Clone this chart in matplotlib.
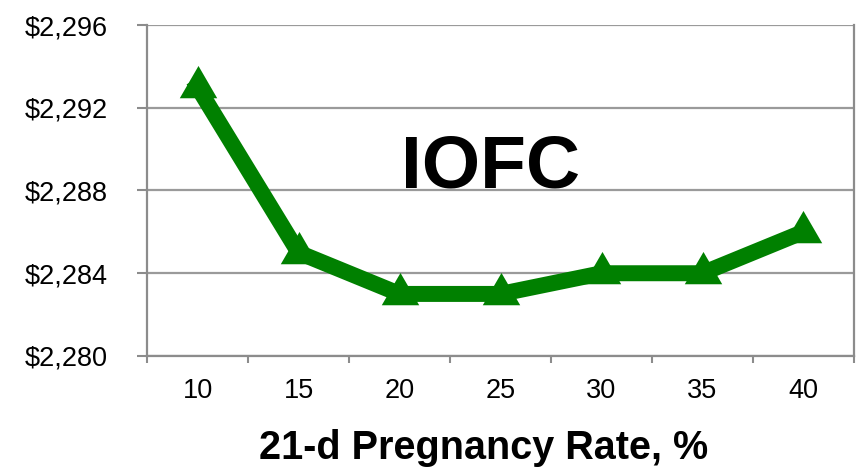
import matplotlib.pyplot as plt
import numpy as np
from matplotlib.path import Path
from matplotlib.ticker import FuncFormatter

# Data
rates = ["10", "15", "20", "25", "30", "35", "40"]
iofc = [2293, 2285, 2283, 2283, 2284, 2284, 2286]
y_ticks = [2280, 2284, 2288, 2292, 2296]

plt.rcParams['font.family'] = ['Liberation Sans', 'DejaVu Sans']

green = '#008000'
gray = '#8c8c8c'

# triangle with its centroid at the origin (the line goes through the centroid)
tri = Path([(0, 2 / 3), (-0.58, -1 / 3), (0.58, -1 / 3), (0, 2 / 3)],
           [Path.MOVETO, Path.LINETO, Path.LINETO, Path.CLOSEPOLY])

fig = plt.figure(figsize=(8.67, 4.72), dpi=100)
ax = fig.add_axes([0.1696, 0.2458, 0.8154, 0.7012])

x = np.arange(len(rates))
ax.plot(x, iofc, color=green, linewidth=11.5, solid_joinstyle='miter',
        marker=tri, markersize=31, markeredgewidth=0, zorder=3)

ax.set_xlim(-0.5, len(rates) - 0.5)
ax.set_ylim(y_ticks[0], y_ticks[-1])
ax.set_yticks(y_ticks)
ax.yaxis.set_major_formatter(FuncFormatter(lambda v, p: f"${v:,.0f}"))
ax.grid(axis='y', color='#9a9a9a', linewidth=1.6, zorder=1)

# category ticks between labels, labels centred on categories
ax.set_xticks(np.arange(-0.5, len(rates)), labels=[""] * (len(rates) + 1))
ax.set_xticks(x, labels=rates, minor=True)
ax.tick_params(axis='x', which='minor', length=0, pad=16, labelsize=19.5)
ax.tick_params(axis='x', which='major', length=5, width=1.5, color=gray)
ax.tick_params(axis='y', length=7, width=1.5, color=gray, pad=21, labelsize=19.5)

for side in ['left', 'bottom', 'right']:
    ax.spines[side].set_color(gray)
    ax.spines[side].set_linewidth(1.6)
ax.spines['top'].set_visible(False)

ax.text(2.9, 2289.1, "IOFC", fontsize=54, fontweight='bold',
        ha='center', va='center')

ax.set_xlabel("21-d Pregnancy Rate, %", fontsize=28.5, fontweight='bold')
ax.xaxis.set_label_coords(0.476, -0.22)

plt.savefig("out.png", dpi=100)
